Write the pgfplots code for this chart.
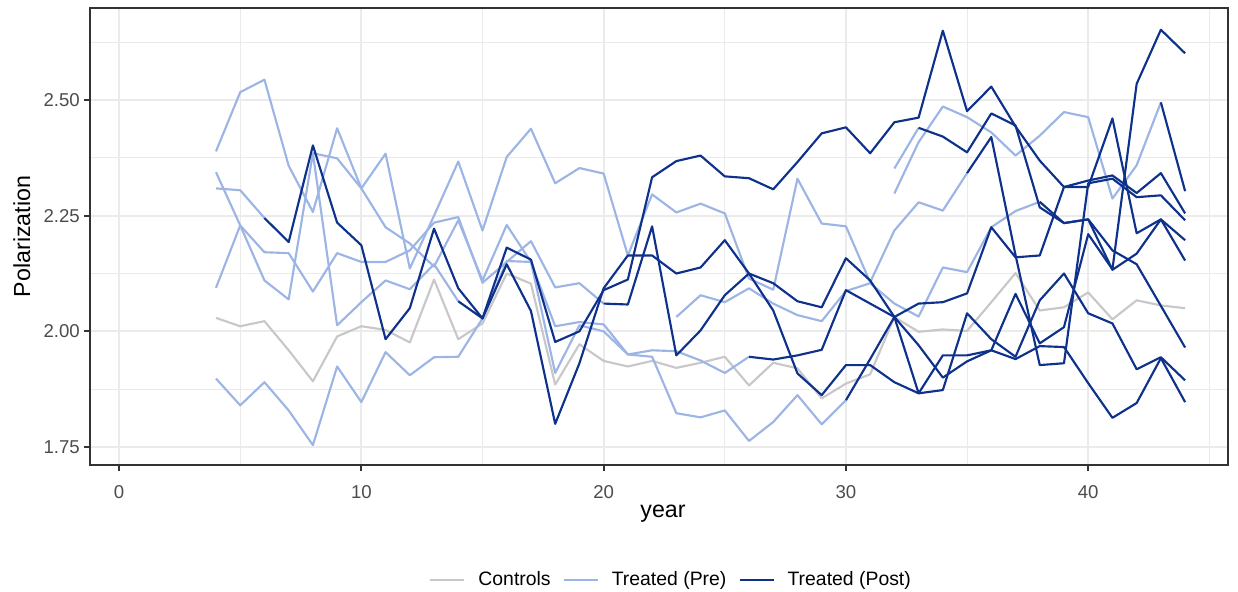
\documentclass[border=0pt]{standalone}
\usepackage{fontspec}
\setmainfont{Liberation Sans}
\usepackage{pgfplots}
\pgfplotsset{compat=1.18}
\definecolor{ctrl}{HTML}{C8C8C8}
\definecolor{pre}{HTML}{9DB5E5}
\definecolor{post}{HTML}{0E318C}
\definecolor{grid92}{gray}{0.92}
\definecolor{grey20}{gray}{0.2}
\definecolor{grey30}{gray}{0.3}
\begin{document}
\begin{tikzpicture}
\path[use as bounding box] (-45pt,-63pt) rectangle (574pt,232.5pt);
\begin{axis}[
 at={(0,0)}, anchor=south west,
 scale only axis, width=569pt, height=228.5pt,
 xmin=-1.2, xmax=45.77, ymin=1.711, ymax=2.699,
 xtick={0,10,20,30,40}, minor xtick={5,15,25,35,45},
 ytick={1.75,2,2.25,2.5}, minor ytick={1.875,2.125,2.375,2.625},
 grid=both,
 major grid style={grid92, line width=1.07pt},
 minor grid style={grid92, line width=0.53pt},
 axis line style={grey20, line width=1.07pt},
 tick align=outside, major tick length=2.75pt, minor tick length=0pt,
 tick style={grey20, line width=1.07pt},
 xtick pos=bottom, ytick pos=left,
 ticklabel style={font=\fontsize{9.3}{10}\selectfont, text=grey30},
 xticklabel style={yshift=-4pt},
 yticklabel style={xshift=1.2pt},
 /pgf/number format/assume math mode=true,
 yticklabel style={/pgf/number format/fixed, /pgf/number format/fixed zerofill, /pgf/number format/precision=2},
 xlabel={year}, ylabel={Polarization},
 every axis x label/.style={at={(axis description cs:0.5035,-0.106)}, anchor=center, font=\fontsize{11.6}{13}\selectfont},
 every axis y label/.style={at={(axis description cs:-0.0598,0.5)}, rotate=90, anchor=center, font=\fontsize{11.6}{13}\selectfont},
 legend style={at={(axis description cs:0.5115,-0.2515)}, anchor=center, legend columns=3, draw=none, fill=none,
   font=\fontsize{9.7}{11}\selectfont,
   /tikz/every odd column/.append style={column sep=4.5pt},
   /tikz/every even column/.append style={column sep=4pt}},
 legend image code/.code={\draw[#1] (0pt,0pt) -- (17pt,0pt);},
 every axis plot/.append style={line width=1.07pt, line join=round},
]
% Controls
\addplot[ctrl, forget plot] coordinates {(4,2.029)(5,2.011)(6,2.022)(7,1.959)(8,1.892)(9,1.989)(10,2.011)(11,2.003)(12,1.976)(13,2.112)(14,1.983)(15,2.017)(16,2.125)(17,2.103)(18,1.885)(19,1.972)(20,1.936)(21,1.924)(22,1.936)(23,1.921)(24,1.932)(25,1.945)(26,1.883)(27,1.932)(28,1.920)(29,1.855)(30,1.887)(31,1.907)(32,2.031)(33,1.999)(34,2.004)(35,2.001)(36,2.063)(37,2.126)(38,2.045)(39,2.052)(40,2.084)(41,2.026)(42,2.067)(43,2.056)(44,2.050)};
% Treated pre
\addplot[pre, forget plot] coordinates {(4,2.389)(5,2.517)(6,2.544)(7,2.358)(8,2.258)(9,2.439)(10,2.309)(11,2.384)(12,2.136)(13,2.25)(14,2.367)(15,2.218)(16,2.377)(17,2.438)(18,2.320)(19,2.353)(20,2.341)(21,2.164)(22,2.296)(23,2.257)(24,2.276)(25,2.255)(26,2.114)(27,2.09)(28,2.330)(29,2.233)(30,2.227)(31,2.106)(32,2.218)(33,2.279)(34,2.261)(35,2.342)};
\addplot[pre, forget plot] coordinates {(4,2.309)(5,2.305)(6,2.245)};
\addplot[pre, forget plot] coordinates {(4,2.344)(5,2.229)(6,2.110)(7,2.069)(8,2.385)(9,2.013)(10,2.063)(11,2.110)(12,2.091)(13,2.145)(14,2.065)};
\addplot[pre, forget plot] coordinates {(4,2.094)(5,2.229)(6,2.171)(7,2.169)(8,2.086)(9,2.169)(10,2.150)(11,2.150)(12,2.175)(13,2.235)(14,2.247)(15,2.105)(16,2.150)(17,2.195)(18,2.095)(19,2.104)(20,2.060)};
\addplot[pre, forget plot] coordinates {(4,1.898)(5,1.840)(6,1.890)(7,1.829)(8,1.754)(9,1.924)(10,1.847)(11,1.955)(12,1.905)(13,1.944)(14,1.945)(15,2.028)(16,2.152)(17,2.150)(18,1.910)(19,2.013)(20,2.000)(21,1.950)(22,1.945)(23,1.823)(24,1.814)(25,1.829)(26,1.763)(27,1.804)(28,1.862)(29,1.799)(30,1.851)};
\addplot[pre, forget plot] coordinates {(8,2.385)(9,2.374)(10,2.309)(11,2.225)(12,2.190)(13,2.140)(14,2.240)(15,2.110)(16,2.230)(17,2.150)(18,2.011)(19,2.020)(20,2.015)(21,1.950)(22,1.959)(23,1.957)(24,1.937)(25,1.910)(26,1.945)};
\addplot[pre, forget plot] coordinates {(23,2.031)(24,2.078)(25,2.063)(26,2.093)(27,2.060)(28,2.035)(29,2.022)(30,2.087)(31,2.104)(32,2.060)(33,2.032)(34,2.138)(35,2.128)(36,2.225)(37,2.260)(38,2.280)};
\addplot[pre, forget plot] coordinates {(32,2.298)(33,2.409)(34,2.486)(35,2.463)(36,2.430)(37,2.380)(38,2.423)(39,2.474)(40,2.463)(41,2.287)(42,2.359)(43,2.495)};
\addplot[pre, forget plot] coordinates {(32,2.352)(33,2.440)};
% Treated post
\addplot[post, forget plot] coordinates {(6,2.245)(7,2.193)(8,2.402)(9,2.235)(10,2.186)(11,1.983)(12,2.050)(13,2.222)(14,2.093)(15,2.028)(16,2.181)(17,2.155)(18,1.977)(19,2.000)(20,2.089)(21,2.112)(22,2.333)(23,2.368)(24,2.380)(25,2.335)(26,2.331)(27,2.307)(28,2.366)(29,2.428)(30,2.441)(31,2.385)(32,2.452)(33,2.462)(34,2.650)(35,2.476)(36,2.529)(37,2.443)(38,2.369)(39,2.312)(40,2.312)(41,2.460)(42,2.212)(43,2.242)(44,2.197)};
\addplot[post, forget plot] coordinates {(14,2.065)(15,2.028)(16,2.145)(17,2.044)(18,1.800)(19,1.931)(20,2.093)(21,2.164)(22,2.164)(23,2.125)(24,2.138)(25,2.197)(26,2.125)(27,2.045)(28,1.909)(29,1.862)(30,1.927)(31,1.927)(32,1.890)(33,1.866)(34,1.948)(35,1.948)(36,1.959)(37,2.081)(38,1.974)(39,2.009)(40,2.210)(41,2.134)(42,2.535)(43,2.652)(44,2.601)};
\addplot[post, forget plot] coordinates {(20,2.060)(21,2.058)(22,2.227)(23,1.948)(24,2.002)(25,2.078)(26,2.125)(27,2.104)(28,2.065)(29,2.052)(30,2.158)(31,2.110)(32,2.031)(33,2.060)(34,2.063)(35,2.082)(36,2.225)(37,2.160)(38,2.164)(39,2.312)(40,2.326)(41,2.337)(42,2.299)(43,2.342)(44,2.255)};
\addplot[post, forget plot] coordinates {(26,1.945)(27,1.939)(28,1.948)(29,1.960)(30,2.089)(31,2.060)(32,2.031)(33,1.970)(34,1.900)(35,1.935)(36,1.959)(37,1.940)(38,1.968)(39,1.966)(40,1.888)(41,1.813)(42,1.845)(43,1.942)(44,1.847)};
\addplot[post, forget plot] coordinates {(30,1.851)(31,1.940)(32,2.031)(33,1.866)(34,1.873)(35,2.039)(36,1.983)(37,1.945)(38,2.067)(39,2.125)(40,2.039)(41,2.017)(42,1.918)(43,1.944)(44,1.894)};
\addplot[post, forget plot] coordinates {(33,2.440)(34,2.421)(35,2.387)(36,2.471)(37,2.445)(38,2.268)(39,2.234)(40,2.242)(41,2.175)(42,2.145)(43,2.055)(44,1.965)};
\addplot[post, forget plot] coordinates {(35,2.342)(36,2.420)(37,2.165)(38,1.927)(39,1.931)(40,2.320)(41,2.330)(42,2.290)(43,2.294)(44,2.240)};
\addplot[post, forget plot] coordinates {(38,2.280)(39,2.234)(40,2.242)(41,2.133)(42,2.168)(43,2.242)(44,2.153)};
\addplot[post, forget plot] coordinates {(43,2.495)(44,2.303)};
\addlegendimage{ctrl, line width=1.07pt}
\addlegendentry{Controls}
\addlegendimage{pre, line width=1.07pt}
\addlegendentry{Treated (Pre)}
\addlegendimage{post, line width=1.07pt}
\addlegendentry{Treated (Post)}
\end{axis}
\end{tikzpicture}
\end{document}
